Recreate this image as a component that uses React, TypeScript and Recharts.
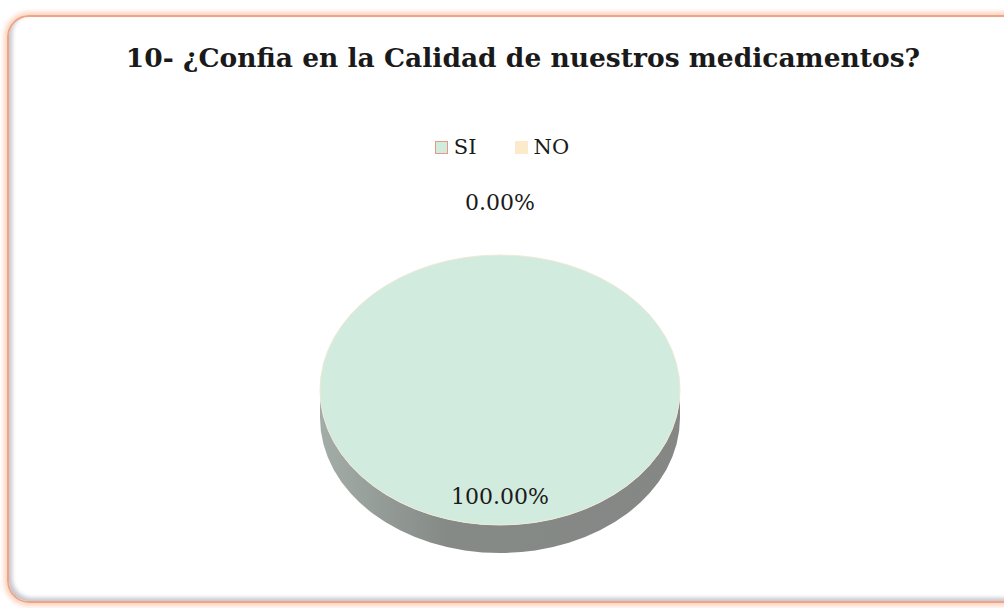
import React from 'react'
import { PieChart, Pie, Cell, Legend } from 'recharts'

const categories = ['SI', 'NO']
const values = [100, 0]
const title = '10- ¿Confia en la Calidad de nuestros medicamentos?'

const COLORS = ['#d2ebdf', '#fbebcb']
const SQUARE_BORDERS = ['#e39a7e', 'transparent']

const data = categories.map((name, i) => ({ name, value: values[i] }))

const TILT = 0.75 // vertical squash of the 3d disc
const DEPTH = 28
const RADIAN = Math.PI / 180

const pct = (p: number) => `${(p * 100).toFixed(2)}%`

function DiscSector(props: any) {
  const { cx, cy, outerRadius, startAngle, endAngle, fill } = props
  const rx = outerRadius
  const ry = outerRadius * TILT
  const span = Math.abs(endAngle - startAngle)
  if (span < 0.01) return <g />
  if (span >= 359.99) {
    const side = `M${cx - rx},${cy} L${cx - rx},${cy + DEPTH} A${rx},${ry} 0 0 0 ${cx + rx},${cy + DEPTH} L${cx + rx},${cy} A${rx},${ry} 0 0 1 ${cx - rx},${cy} Z`
    return (
      <g>
        <defs>
          <linearGradient id="discSide" x1="0" y1="0" x2="1" y2="0">
            <stop offset="0%" stopColor="#a3ada7" />
            <stop offset="35%" stopColor="#858a87" />
            <stop offset="100%" stopColor="#858785" />
          </linearGradient>
        </defs>
        <path d={side} fill="url(#discSide)" />
        <ellipse cx={cx} cy={cy} rx={rx} ry={ry} fill={fill} stroke="#efe9d6" strokeWidth={1} />
      </g>
    )
  }
  const p = (a: number) => [cx + rx * Math.cos(-a * RADIAN), cy + ry * Math.sin(-a * RADIAN)]
  const [x1, y1] = p(startAngle)
  const [x2, y2] = p(endAngle)
  const large = span > 180 ? 1 : 0
  const sweep = startAngle > endAngle ? 1 : 0
  return <path d={`M${cx},${cy} L${x1},${y1} A${rx},${ry} 0 ${large} ${sweep} ${x2},${y2} Z`} fill={fill} />
}

function renderLabel(props: any) {
  const { cx, cy, midAngle, outerRadius, percent, index } = props
  const r = index === 0 ? outerRadius * 0.79 : outerRadius + 70
  const x = cx + r * Math.cos(-midAngle * RADIAN)
  const y = cy + r * Math.sin(-midAngle * RADIAN) * TILT
  return (
    <text x={x} y={y} textAnchor="middle" dominantBaseline="central" fontFamily="DejaVu Serif" fontSize={22} fill="#1a1a1a">
      {pct(percent)}
    </text>
  )
}

function LegendContent() {
  return (
    <div style={{ display: 'flex', justifyContent: 'center', gap: 38, fontFamily: 'DejaVu Serif', fontSize: 21, color: '#1a1a1a' }}>
      {categories.map((c, i) => (
        <div key={c} style={{ display: 'flex', alignItems: 'center', gap: 6 }}>
          <span style={{ width: 11, height: 11, background: COLORS[i], border: `1.5px solid ${SQUARE_BORDERS[i]}` }} />
          <span>{c}</span>
        </div>
      ))}
    </div>
  )
}

export default function App() {
  return (
    <div style={{ position: 'fixed', left: 0, top: 0, width: 1004, height: 608, background: '#fff', overflow: 'hidden' }}>
      <div
        style={{
          position: 'absolute',
          left: 7,
          top: 15,
          width: 1020,
          height: 584,
          border: '2px solid #f0a486',
          borderRadius: 22,
          boxShadow: '0 0 5px 3px #fbd3bf, inset 3px -3px 4px #c4c4cc',
        }}
      />
      <div
        style={{
          position: 'absolute',
          left: 0,
          top: 42,
          width: 1046,
          textAlign: 'center',
          fontFamily: 'DejaVu Serif',
          fontWeight: 'bold',
          fontSize: 26.5,
          color: '#1a1a1a',
        }}
      >
        {title}
      </div>
      <div style={{ position: 'absolute', left: 0, top: 0 }}>
        <PieChart width={1004} height={608}>
          <Legend verticalAlign="top" content={<LegendContent />} wrapperStyle={{ top: 135, left: 0, width: 1004 }} />
          <Pie
            data={data}
            dataKey="value"
            nameKey="name"
            cx={495}
            cy={361}
            outerRadius={180}
            startAngle={90}
            endAngle={-270}
            stroke="none"
            labelLine={false}
            label={renderLabel}
            shape={DiscSector}
            isAnimationActive={false}
          >
            {data.map((d, i) => (
              <Cell key={d.name} fill={COLORS[i]} />
            ))}
          </Pie>
        </PieChart>
      </div>
    </div>
  )
}
